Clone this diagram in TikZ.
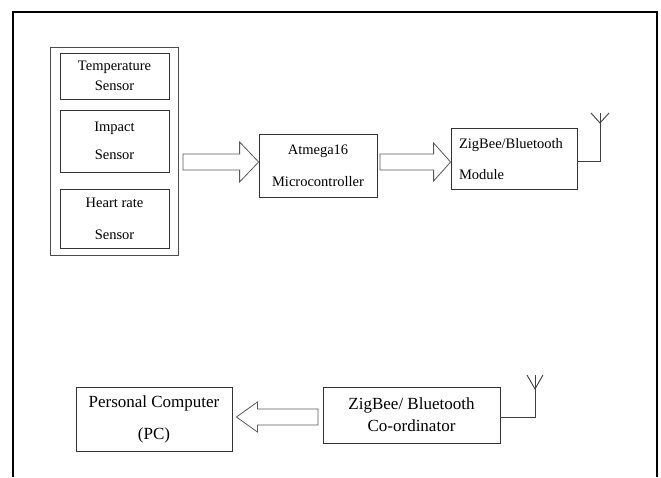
\documentclass[tikz,border=0pt]{standalone}
\usepackage{fontspec}
\setmainfont{Liberation Serif}
\usetikzlibrary{calc}
\begin{document}
\begin{tikzpicture}[x=1pt,y=-1pt,
  box/.style={draw=black!80,line width=0.8pt,inner sep=0pt,align=center},
  small/.style={font=\fontsize{14.5}{17}\selectfont},
  large/.style={font=\fontsize{17}{20}\selectfont},
  fatarrow/.style={draw=black!65,line width=0.8pt,line join=miter},
  wire/.style={draw=black!75,line width=0.9pt}]
\useasboundingbox (0,0) rectangle (661,477);
% frame
\draw[line width=2pt] (13,477) -- (13,12) -- (657,12) -- (657,477);
% sensor group
\node[box,draw=black!70,minimum width=128pt,minimum height=208pt] (group) at (114,151) {};
\node[box,small,minimum width=109pt,minimum height=46pt] (temp) at (114.5,76) {Temperature\\[3pt]Sensor};
\node[box,small,minimum width=109pt,minimum height=62pt] (impact) at (114.5,141) {Impact\\[11pt]Sensor};
\node[box,small,minimum width=109pt,minimum height=59pt] (heart) at (114.5,218.5) {Heart rate\\[15pt]Sensor};
% microcontroller
\node[box,small,minimum width=118pt,minimum height=63pt] (mcu) at (318,165.5) {Atmega16\\[15pt]Microcontroller};
% module
\node[box,small,text width=110pt,inner xsep=8pt,minimum height=61pt,align=left] (mod) at (514,159) {ZigBee/Bluetooth\\[14pt]Module};
% PC
\node[box,large,minimum width=156pt,minimum height=64pt] (pc) at (154,419) {Personal Computer\\[12pt](PC)};
% coordinator
\node[box,large,minimum width=177pt,minimum height=56pt] (coord) at (411.5,415) {ZigBee/ Bluetooth\\[2pt]Co-ordinator};
% arrows
\coordinate (a1s) at (183,162);
\coordinate (a1t) at (mcu.west |- a1s);
\draw[fatarrow] ($(a1s)+(0,-8)$) -- ($(a1t)+(-19,-8)$) -- ($(a1t)+(-19,-20)$) -- (a1t)
  -- ($(a1t)+(-19,20)$) -- ($(a1t)+(-19,8)$) -- ($(a1s)+(0,8)$) -- cycle;
\coordinate (a2s) at (380,162);
\coordinate (a2t) at (mod.west |- a2s);
\draw[fatarrow] ($(a2s)+(0,-8)$) -- ($(a2t)+(-17,-8)$) -- ($(a2t)+(-17,-19)$) -- (a2t)
  -- ($(a2t)+(-17,19)$) -- ($(a2t)+(-17,8)$) -- ($(a2s)+(0,8)$) -- cycle;
\coordinate (a3s) at (318,417);
\coordinate (a3t) at ($(pc.east |- a3s)+(4,0)$);
\draw[fatarrow] ($(a3s)+(0,-8)$) -- ($(a3t)+(21,-8)$) -- ($(a3t)+(21,-15)$) -- (a3t)
  -- ($(a3t)+(21,15)$) -- ($(a3t)+(21,8)$) -- ($(a3s)+(0,8)$) -- cycle;
% antennas
\coordinate (ant1) at (600,113);
\draw[wire] ($(mod.east)+(0,2)$) -| (ant1);
\draw[wire] ($(ant1)+(-9,0)$) -- ($(ant1)+(0,10)$) -- ($(ant1)+(9,0)$);
\coordinate (ant2) at (535,375);
\draw[wire] ($(coord.east)+(0,2)$) -| (ant2);
\draw[wire] ($(ant2)+(-8,0)$) -- ($(ant2)+(0,14)$) -- ($(ant2)+(8,0)$);
\end{tikzpicture}
\end{document}
